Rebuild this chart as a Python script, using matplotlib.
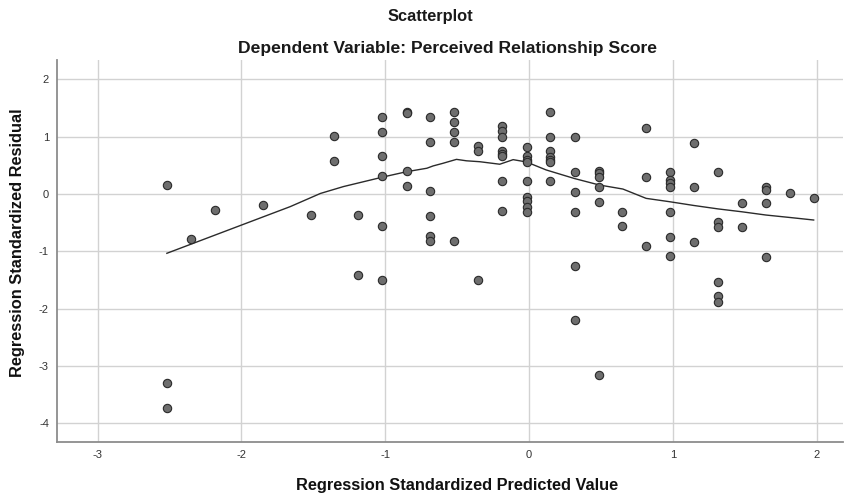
#!/usr/bin/env python3
# residual scatterplot (SPSS style) with loess fit line
import matplotlib
matplotlib.use("Agg")
import matplotlib.pyplot as plt

plt.rcParams['font.family'] = ['Liberation Sans', 'DejaVu Sans']
plt.rcParams['axes.unicode_minus'] = False

# predicted values (columns) and residuals
pred = ([-2.518] * 3 + [-2.35, -2.185, -1.85, -1.518] + [-1.354] * 2 + [-1.187] * 2
        + [-1.02] * 6 + [-0.85] * 4 + [-0.685] * 6 + [-0.518] * 5 + [-0.351] * 3
        + [-0.185] * 8 + [-0.016] * 9 + [0.149] * 7 + [0.317] * 6 + [0.484] * 6
        + [0.648] * 2 + [0.815] * 3 + [0.982] * 7 + [1.146] * 3 + [1.315] * 6
        + [1.482] * 2 + [1.648] * 4 + [1.815, 1.98])
resid = [0.157, -3.30, -3.73,
         -0.79, -0.28, -0.19, -0.37,
         1.007, 0.58,
         -0.37, -1.41,
         1.35, 1.087, 0.66, 0.32, -0.55, -1.50,
         1.437, 1.42, 0.41, 0.145,
         1.35, 0.91, 0.057, -0.38, -0.73, -0.815,
         1.437, 1.257, 1.087, 0.913, -0.815,
         0.83, 0.756, -1.506,
         1.19, 1.105, 1.0, 0.756, 0.70, 0.66, 0.22, -0.30,
         0.82, 0.66, 0.60, 0.56, 0.22, -0.047, -0.13, -0.22, -0.31,
         1.425, 0.99, 0.75, 0.65, 0.60, 0.565, 0.22,
         0.99, 0.384, 0.035, -0.31, -1.257, -2.204,
         0.40, 0.36, 0.29, 0.128, -0.134, -3.16,
         -0.31, -0.565,
         1.157, 0.297, -0.907,
         0.384, 0.25, 0.20, 0.122, -0.314, -0.745, -1.09,
         0.896, 0.117, -0.832,
         0.378, -0.489, -0.57, -1.53, -1.78, -1.88,
         -0.151, -0.57,
         0.12, 0.07, -0.151, -1.093,
         0.023, -0.065]

# loess fit line
fit_x = [-2.518, -1.66, -1.45, -1.29, -1.01, -0.85, -0.71, -0.667, -0.60, -0.504,
         -0.435, -0.342, -0.203, -0.11, -0.018, 0.12, 0.317, 0.49, 0.653, 0.815,
         0.977, 1.146, 1.315, 1.48, 1.648, 1.815, 1.98]
fit_y = [-1.035, -0.22, 0.01, 0.13, 0.30, 0.39, 0.45, 0.49, 0.535, 0.605,
         0.58, 0.564, 0.52, 0.60, 0.56, 0.42, 0.27, 0.157, 0.087, -0.076,
         -0.134, -0.20, -0.26, -0.31, -0.367, -0.41, -0.454]

xticks = [-3, -2, -1, 0, 1, 2]
yticks = [2, 1, 0, -1, -2, -3, -4]

fig = plt.figure(figsize=(8.44, 4.98), dpi=100)
ax = fig.add_axes([57.3 / 844, 56 / 498, 1 - 57.3 / 844 - 0.001, (442 - 60) / 498])

ax.set_xlim(-3.28, 2.185)
ax.set_ylim(-4.33, 2.34)
ax.set_xticks(xticks)
ax.set_yticks(yticks)
ax.grid(True, color='#d2d2d2', linewidth=1.0)
ax.set_axisbelow(True)
ax.tick_params(length=0, labelsize=8, labelcolor='#333333', pad=6)
for side in ['top', 'right']:
    ax.spines[side].set_visible(False)
for side in ['left', 'bottom']:
    ax.spines[side].set_color('#8c8c8c')
    ax.spines[side].set_linewidth(1.3)

ax.plot(fit_x, fit_y, color='#2b2b2b', linewidth=1.0, zorder=2)
ax.scatter(pred, resid, s=36, facecolor='#6e6e6e', edgecolor='#2a2a2a',
           linewidth=0.8, zorder=3)

fig.text(430 / 844, 1 - 17 / 498, 'Scatterplot', ha='center', va='center',
         fontsize=11.8, fontweight='bold', color='#1a1a1a')
fig.text(447 / 844, 1 - 48 / 498, 'Dependent Variable: Perceived Relationship Score',
         ha='center', va='center', fontsize=12.6, fontweight='bold', color='#1a1a1a')
fig.text(457 / 844, 1 - 485 / 498, 'Regression Standardized Predicted Value',
         ha='center', va='center', fontsize=11.75, fontweight='bold', color='#111111')
fig.text(18 / 844, 1 - 243 / 498, 'Regression Standardized Residual', rotation=90,
         ha='center', va='center', fontsize=11.75, fontweight='bold', color='#111111')

fig.savefig('out.png', dpi=100)
